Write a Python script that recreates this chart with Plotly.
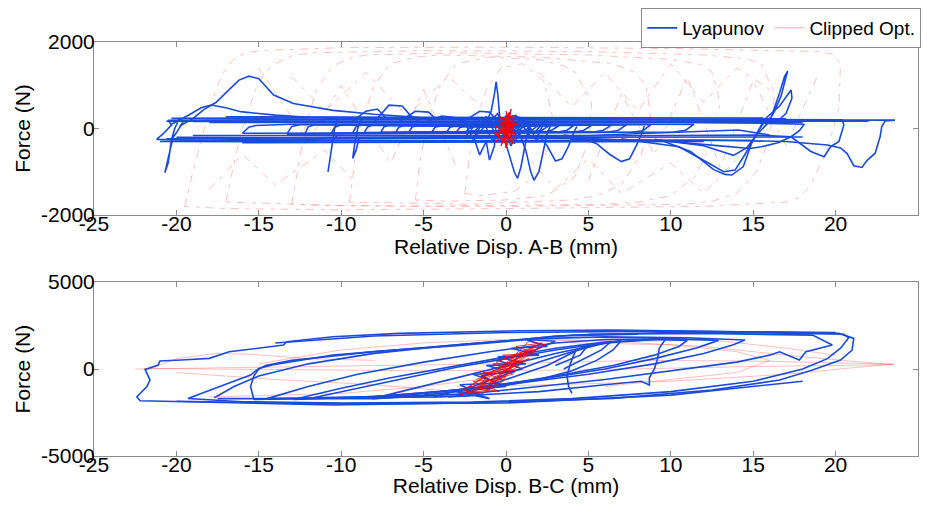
import plotly.graph_objects as go

# ---------------- DATA ----------------
x_ticks = [-25, -20, -15, -10, -5, 0, 5, 10, 15, 20, 25]
x_tick_labels = ["-25", "-20", "-15", "-10", "-5", "0", "5", "10", "15", "20", "25"]
ab_y_ticks = [-2000, 0, 2000]
ab_y_tick_labels = ["-2000", "0", "2000"]
bc_y_ticks = [-5000, 0, 5000]
bc_y_tick_labels = ["-5000", "0", "5000"]

# Top panel: Relative Disp. A-B (mm) vs Force (N)
ab_lyap_envelope = [
    [(-20.5,190),(-15,205),(-8,215),(0,205),(8,200),(15,195),(20,190),(23.6,195),(23.0,175),(22.8,40),(22.7,-190),(22.4,-570),(21.9,-740),(21.6,-900),(21.1,-860),(20.7,-580),(20.3,-450),(19.5,-380),(17,-300),(12,-265),(5,-275),(-5,-285),(-12,-295),(-18,-285),(-21.2,-250),(-20.8,-120),(-20.3,80),(-20.5,190)],
    [(-20.3,235),(-10,245),(0,235),(10,225),(18,215),(20.4,200),(20.5,80),(20.2,-300),(19.7,-420),(19.3,-650),(18.5,-530),(17.3,-190),(15,-150),(10,-165),(0,-185),(-10,-205),(-19,-225),(-20.6,-240)],
    [(-19,165),(-10,170),(0,160),(8,150),(14,140),(16,120),(18.1,100),(17.8,-50),(17.3,-190),(16.5,-330),(15.5,-420),(14.8,-460),(13,-400),(10,-300),(5,-230),(0,-220),(-10,-240),(-19.5,-270)],
    [(-20.6,170),(-10,180),(0,175),(10,170),(20,175),(22,170)],
    [(-18,140),(-5,150),(5,145),(15,140),(18,140)],
    [(-19,-160),(-5,-170),(5,-160),(14.1,-35),(16,-150)],
    [(-20,-200),(-8,-215),(4,-200),(14,-190),(18,-195)],
    [(-21,-300),(-10,-310),(0,-300),(10,-280),(15,-270)],
    [(-17,270),(-8,260),(0,250),(10,245),(17,240)],
    [(-16,-330),(-6,-320),(4,-310),(12,-300)],
]
ab_lyap_spikes = [
    [(4,-250),(9.4,-270),(11.2,-530),(12.6,-950),(13.3,-1060),(13.7,-1075),(14.4,-880),(14.9,-340),(15.5,80),(16.1,270),(16.6,820),(16.9,1200),(17.1,1330),(17.0,1210),(16.7,760),(16.3,400),(16.0,210),(14,200),(10,205)],
    [(7,-240),(10.5,-420),(12.2,-780),(13.2,-1000),(13.9,-960),(14.5,-600),(15.1,-200),(15.8,250),(16.6,520),(17.1,800),(17.3,890),(17.35,700),(17.0,350),(16.5,180),(13,175)],
    [(9,-250),(12,-400),(13.8,-620),(14.6,-450),(15.2,-150),(16,170)],
    [(3.5,-150),(4.5,-200),(5.5,-350),(6.3,-600),(7.0,-765),(7.5,-700),(7.9,-400),(8.2,-150),(8.4,60)],
    [(2.0,-150),(2.5,-400),(3.0,-750),(3.4,-700),(3.8,-400),(4.1,-100),(4.3,50)],
    [(0.8,-100),(1.2,-500),(1.5,-1000),(1.7,-1195),(2.0,-1000),(2.3,-500),(2.5,-100),(2.7,60)],
    [(-0.2,-100),(0.2,-600),(0.5,-1000),(0.7,-1150),(0.9,-900),(1.2,-300),(1.4,50)],
    [(-2.0,-150),(-1.6,-610),(-1.2,-300),(-1.0,-730),(-0.7,-400),(-0.6,100)],
    [(-1.2,150),(-0.9,400),(-0.7,800),(-0.6,1080),(-0.5,800),(-0.4,300),(-0.3,-100)],
    [(-10.2,260),(-10.4,0),(-10.6,-500),(-10.8,-1000),(-10.7,-700),(-10.5,-250),(-10.2,-150)],
    [(-8.8,200),(-9.0,0),(-9.2,-400),(-9.3,-690),(-9.1,-500),(-8.9,-200)],
    [(-19.8,250),(-20.1,0),(-20.3,-260),(-20.5,-790),(-20.7,-1020),(-20.6,-850),(-20.4,-500),(-20.2,-200),(-20.0,-100),(-19.6,150)],
    [(-19.8,60),(-19.0,230),(-18.3,450),(-17.6,600),(-16.8,900),(-16.2,1120),(-15.6,1210),(-15.0,1150),(-14.1,775),(-12.9,580),(-10.5,420),(-8,330),(-5,250),(0,210)],
    [(-20.3,100),(-19.3,300),(-18.5,480),(-17.9,545),(-17.0,480),(-16.1,390),(-14,310),(-12,260),(-8,240)],
    [(-11.2,200),(-10.5,250),(-9.6,250),(-9,200)],
    [(-9.4,150),(-8.5,400),(-7.8,450),(-7.3,250)],
    [(-8.0,150),(-7.1,540),(-6.3,520),(-5.8,300),(-5.3,180)],
    [(-6.5,150),(-5.5,400),(-4.7,380),(-4.2,200)],
    [(-4.8,160),(-3.9,290),(-3.2,260),(-2.6,170)],
    [(-2.6,160),(-1.6,400),(-1.0,380),(-0.5,150)],
    [(-0.2,150),(0.4,300),(0.9,250),(1.3,120)],
    [(-2.5,-200),(-1.5,250),(-0.8,-300),(0,300),(0.5,-350),(1.2,250),(1.8,-250),(2.4,200),(1.5,-200),(0.6,300),(-0.4,-300),(-1.2,280),(-2,-250),(-2.6,220),(-1.8,-150),(-0.5,350),(0.3,-400),(1.0,200),(2.0,-300)],
]
ab_lyap_loops = [
    [(-16.0,-110),(-15.6,30),(-15.2,70),(-13,100),(0,110),(11.1,105),(11.4,95),(10.9,-40),(10.2,-80),(0,-95),(-15.5,-120),(-16.0,-110)],
    [(-13.3,-130),(-13.0,50),(-12.5,90),(0,95),(8.5,100),(8.8,90),(8.3,-50),(7.6,-85),(0,-100),(-13,-140),(-13.3,-130)],
    [(-12.2,-120),(-12.0,40),(-11.6,85),(0,90),(7.0,95),(7.3,85),(6.8,-45),(6.2,-80),(0,-95),(-12.0,-130),(-12.2,-120)],
    [(-10.6,-110),(-10.4,30),(-10.0,80),(0,85),(6.1,90),(6.4,80),(5.9,-40),(5.4,-75),(0,-90),(-10.4,-120),(-10.6,-110)],
    [(-9.3,-100),(-9.1,40),(-8.8,80),(0,80),(4.9,85),(5.2,75),(4.7,-45),(4.3,-70),(0,-85),(-9.1,-110),(-9.3,-100)],
    [(-8.6,-95),(-8.4,35),(-8.1,75),(0,75),(3.8,80),(4.1,70),(3.7,-40),(3.3,-70),(0,-80),(-8.4,-105),(-8.6,-95)],
    [(-7.6,-90),(-7.4,40),(-7.1,70),(0,70),(2.9,75),(3.2,65),(2.8,-35),(2.5,-65),(0,-75),(-7.4,-100),(-7.6,-90)],
    [(-6.7,-90),(-6.5,30),(-6.2,70),(2.3,70),(2.6,60),(2.2,-35),(1.9,-60),(-6.5,-95),(-6.7,-90)],
    [(-5.9,-85),(-5.7,35),(-5.4,65),(1.6,65),(1.9,55),(1.6,-30),(1.3,-60),(-5.7,-90),(-5.9,-85)],
    [(-4.5,-80),(-4.3,30),(-4.0,60),(1.2,60),(1.5,50),(1.2,-30),(0.9,-55),(-4.3,-85),(-4.5,-80)],
    [(-3.6,-80),(-3.4,30),(-3.1,55),(0.9,55),(1.1,45),(0.8,-30),(0.5,-50),(-3.4,-80),(-3.6,-80)],
    [(-3.0,-75),(-2.8,25),(-2.5,50),(0.6,50),(0.8,40),(0.5,-30),(0.2,-50),(-2.8,-75),(-3.0,-75)],
    [(-2.4,-70),(-2.2,25),(-2.0,45),(0.4,45),(0.6,35),(0.3,-25),(0.1,-45),(-2.2,-70),(-2.4,-70)],
    [(-1.9,-65),(-1.7,20),(-1.5,40),(0.3,40),(0.5,30),(0.2,-25),(0.0,-40),(-1.7,-65),(-1.9,-65)],
]
ab_clip_loops = [
    [(-19.5,-1800),(-19.2,-1300),(-19.0,-1000),(-18.3,0),(-17.5,1000),(-17.0,1400),(-16.5,1600),(-15.8,1750),(-15,1800),(-10,1870),(0,1880),(10,1850),(16,1800),(19,1780),(19.8,1720),(20.3,1500),(20.2,500),(19.5,-500),(18.5,-1300),(17.8,-1600),(17,-1700),(12,-1800),(0,-1850),(-10,-1880),(-17,-1850),(-19.5,-1800)],
    [(-17,-1700),(-16.5,-800),(-16,0),(-15.2,900),(-14.6,1300),(-14,1500),(-13,1680),(-12,1750),(-5,1800),(5,1780),(12,1700),(14.5,1620),(15.5,1500),(16.3,800),(16,-200),(15.2,-1000),(14,-1500),(12.5,-1680),(11,-1750),(0,-1800),(-10,-1780),(-15,-1720),(-17,-1700)],
    [(-13,-1750),(-12.6,-900),(-12.2,0),(-11.5,900),(-10.5,1450),(-9.5,1620),(-8.5,1700),(-3,1750),(5,1700),(10,1600),(11.8,1480),(12.5,1300),(13,600),(12.5,-300),(11.5,-1100),(10,-1550),(8,-1700),(6,-1750),(-5,-1800),(-11,-1780),(-13,-1750)],
    [(-9.5,-1700),(-9.2,-800),(-8.8,100),(-8.0,1000),(-7,1500),(-5.5,1650),(-4,1700),(2,1650),(6.5,1500),(7.8,1300),(8.5,1000),(8.8,200),(8.2,-600),(7,-1300),(5.5,-1550),(4,-1650),(-2,-1750),(-7,-1720),(-9.5,-1700)],
    [(-5.5,-1650),(-5.2,-700),(-4.7,200),(-4,1000),(-3,1500),(-1,1650),(2,1600),(3.5,1450),(4.2,1300),(5.2,600),(5.0,-300),(4.2,-1100),(2.5,-1550),(0,-1650),(-3.5,-1680),(-5.5,-1650)],
    [(-2.5,-1500),(-2.2,-600),(-1.8,200),(-1.2,900),(-0.3,1400),(1,1500),(2.3,1100),(2.8,300),(2.5,-500),(1.8,-1100),(0.5,-1450),(-1.5,-1550),(-2.5,-1500)],
    [(-15,1400),(-12,-300),(-10,1000),(-7,-800),(-5,900),(-3,-900)],
    [(5,-1200),(7,800),(9,-600),(11,1200),(13,-900),(15,1100),(17,-400),(19,1300)],
    [(-18,-1400),(-16,-600),(-14,-1300),(-11,-500),(-9,-1300)],
    [(-13,1200),(-11,400),(-8.5,1300),(-6,300),(-3.5,1200),(-1.5,500)],
    [(1,-500),(3,-1400),(5,-700),(7,-1500),(10,-800),(12,-1500),(14,-700)],
    [(2,1300),(4,500),(6,1300),(8,400),(10,1500),(12,600),(14,1400),(16,900)],
]
ab_clip_core = [
    [(-0.6,-300),(0.2,350),(-0.3,-400),(0.5,300),(-0.5,200),(0.4,-350),(0,400),(0.6,-200),(-0.4,300),(0.3,-300),(-0.2,250),(0.7,100),(-0.7,-100),(0.1,-380),(0.2,380),(-0.5,-150),(0.6,150),(-0.1,-250),(0.3,450),(0.0,-450),(-0.3,150),(0.4,-100),(-0.2,-300),(0.1,300),(0.5,-250),(-0.6,50)],
]

# Bottom panel: Relative Disp. B-C (mm) vs Force (N)
bc_lyap_loops = [
    [(0.8,2200),(6.5,2240),(14,2150),(20.2,2050),(21.1,1765),(21.0,1090),(20.3,520),(18.6,-57),(16.6,-632),(12.5,-1200),(6.5,-1685),(0.4,-1880),(-4.4,-1975),(-10.5,-2070),(-16.6,-1940),(-22.2,-1820),(-22.4,-1590),(-21.8,-1015),(-21.6,-632),(-21.8,-153),(-21.9,-20),(-21.1,230),(-21.0,460),(-19.7,517),(-18.0,615),(-16.8,996),(-13.5,1380),(-13.3,1570),(-10.5,1860),(-6.5,2050),(0.8,2200)],
    [(-19.3,-1690),(-18,-1210),(-16.6,-730),(-15.5,-345),(-15,40),(-14.2,230),(-10.5,805),(-4.4,1280),(0.8,1670),(4,1950),(10,2100),(16,2080),(20.5,2000),(20.8,1800),(20.3,1200),(19.5,600),(18,0),(15,-700),(10,-1300),(4,-1700),(-2,-1900),(-10,-1950),(-16,-1880),(-19.3,-1690)],
    [(5,2000),(12,2050),(18.6,1950),(19.8,1380),(18.2,995),(17.8,517),(16.6,995),(16.0,800),(14,400),(10,-100),(6,-600),(2,-1000),(-2,-1400),(-8,-1700),(-17.5,-1700)],
    [(-17.7,-1650),(-16.5,-1000),(-15,-400),(-12,300),(-8,900),(-3,1400),(1,1700),(3,1900),(8,2000)],
    [(-15.3,-1750),(-15.5,-1000),(-15.3,-400),(-15.0,0),(-14.6,200),(-13,500),(-8,1000),(-3,1350),(2,1750),(6,1850),(11,1800),(14.5,1670),(13.8,1400),(12,900),(9,300),(5,-300),(0,-900),(-4,-1300),(-9,-1650),(-15.3,-1750)],
    [(-14.5,-1700),(-12,-1000),(-9,-300),(-5,400),(-1,1000),(3,1500),(6,1700),(10,1750),(12.9,1650),(11.5,1200),(9,600),(6,0),(2,-600),(-3,-1200),(-8,-1600),(-14.5,-1700)],
    [(-12.9,-1750),(-10,-1100),(-7,-500),(-3,200),(0,700),(3,1200),(6,1550),(9,1700),(11,1650),(10.5,1300),(9,800),(6.5,200),(3,-400),(-1,-1000),(-6,-1500),(-12.9,-1750)],
    [(-11.7,-1650),(-9,-1100),(-6,-500),(-3,100),(0,600),(3,1100),(6,1500),(9.7,1750),(9.3,1200),(9.2,600),(9.0,0),(8.7,-500),(8.7,-920),(8.2,-700),(6,-900),(2,-1300),(-4,-1600),(-11.7,-1650)],
    [(-8.1,-1700),(-6,-1200),(-3,-500),(0,200),(3,900),(5,1300),(7,1650),(6.5,1100),(5.5,500),(4,-100),(2,-600),(-1,-1100),(-5,-1500),(-8.1,-1700)],
    [(-4.4,-1600),(-2,-1000),(0,-300),(2,400),(4,1000),(6.4,1600),(5.8,1100),(4.5,500),(3.5,0)],
    [(4.2,1000),(3.9,300),(3.7,-400),(3.8,-1000),(4.0,-1400)],
    [(-3,-1500),(0,-600),(2.5,200),(4,900),(5,1400),(4.5,800),(3,200)],
    [(-20,-1850),(-10,-2000),(0,-1950),(10,-1500),(18,-700)],
    [(-14,1500),(-8,1900),(0,2100),(10,2180),(20,2100)],
    [(-3.5,-1600),(-1.5,-1500),(-2.8,-900),(-0.5,-800),(-2,-300),(0.5,-200),(-1.2,200),(1.2,300),(-0.5,700),(2,800),(0.3,1200),(2.5,1300),(1.2,1700),(3,1600),(1.5,1000),(-0.5,500),(1,0),(-1.5,-400),(0,-1000),(-2.5,-1200),(-1,-1700),(-3,-1300)],
]
bc_clip_lines = [
    [(23.5,250),(18,700),(12,1300),(6,1600),(2,1700)],
    [(23.5,250),(15,150),(5,-50),(-5,-100),(-15,-20),(-22,30)],
    [(23.5,300),(17,-300),(10,-700),(3,-900),(-3,-1000)],
    [(23.5,280),(16,450),(8,500),(0,300),(-8,200),(-16,100),(-22.5,0)],
    [(-21.9,-100),(-20,600),(-17.6,900),(-15.5,850),(-12,600),(-8,500)],
    [(-20,-200),(-14,-600),(-8,-900),(-3,-1300)],
    [(-18,-1600),(-10,-1400),(-5,-1000),(0,-400)],
    [(4,1500),(10,1400),(14,1000),(16,500),(14,-200),(10,-600),(6,-1000)],
    [(2,1700),(8,1600),(12.5,1670),(17,1200),(20,800)],
    [(-15,300),(-10,1100),(-5,1500),(0,1700)],
]
bc_clip_core = [
    [(-2.5,-1400),(-1.0,-1200),(-2.0,-700),(-0.2,-600),(-1.4,-200),(0.6,-100),(-0.8,300),(1.0,400),(-0.2,800),(1.8,900),(0.6,1300),(2.2,1500),(1.0,1000),(-0.6,400),(0.4,-300),(-1.6,-800),(-0.4,-1300),(-2.2,-1000),(-0.8,-100),(1.4,600),(0.2,0),(-1.2,-500),
     (-1.8,-1100),(0.0,-400),(-1.0,-900),(0.8,200),(-0.4,100),(1.6,1100),(0.4,700),(2.0,1200),(-0.2,-200),(-2.2,-1300),
     (-2.8,-1500),(-0.6,-900),(-1.6,-300),(0.4,100),(-0.6,-500),(1.2,800),(0.0,300),(2.4,1400),(1.4,1600),(0.2,500),(-1.0,-300),(-2.6,-1200),(-1.4,-1400),(-0.2,-700),(0.8,900),(1.8,1300),(-0.4,-100),(-1.8,-600)],
]

# ---------------- FIGURE ----------------
def flatten(segments):
    xs, ys = [], []
    for seg in segments:
        for px, py in seg:
            xs.append(px)
            ys.append(py)
        xs.append(None)
        ys.append(None)
    return xs, ys

BLUE = "#1a4bdc"
RED_LIGHT = "rgba(255,90,90,0.4)"
RED_CORE = "rgb(255,0,0)"
FONT = "Liberation Sans, Arial, sans-serif"

fig = go.Figure()

x, y = flatten(ab_clip_loops)
fig.add_trace(go.Scatter(x=x, y=y, mode="lines", showlegend=False,
                         line=dict(color="rgba(255,90,90,0.38)", width=1, dash="8px,6px,4px,7px"),
                         xaxis="x", yaxis="y"))
for segs in (ab_lyap_envelope, ab_lyap_loops, ab_lyap_spikes):
    x, y = flatten(segs)
    fig.add_trace(go.Scatter(x=x, y=y, mode="lines", showlegend=False,
                             line=dict(color=BLUE, width=1.6), xaxis="x", yaxis="y"))
x, y = flatten(ab_clip_core)
fig.add_trace(go.Scatter(x=x, y=y, mode="lines", showlegend=False,
                         line=dict(color=RED_CORE, width=1), xaxis="x", yaxis="y"))

x, y = flatten(bc_clip_lines)
fig.add_trace(go.Scatter(x=x, y=y, mode="lines", showlegend=False,
                         line=dict(color=RED_LIGHT, width=1), xaxis="x2", yaxis="y2"))
x, y = flatten(bc_lyap_loops)
fig.add_trace(go.Scatter(x=x, y=y, mode="lines", showlegend=False,
                         line=dict(color=BLUE, width=1.6), xaxis="x2", yaxis="y2"))
x, y = flatten(bc_clip_core)
fig.add_trace(go.Scatter(x=x, y=y, mode="lines", showlegend=False,
                         line=dict(color="rgba(255,0,0,0.8)", width=1), xaxis="x2", yaxis="y2"))

# legend entries
fig.add_trace(go.Scatter(x=[None], y=[None], mode="lines", name="Lyapunov",
                         line=dict(color=BLUE, width=1.6), xaxis="x", yaxis="y"))
fig.add_trace(go.Scatter(x=[None], y=[None], mode="lines", name="Clipped Opt.",
                         line=dict(color="rgb(255,170,170)", width=1), xaxis="x", yaxis="y"))

axis_common = dict(range=[-25, 25], tickvals=x_ticks, ticktext=x_tick_labels,
                   showgrid=False, zeroline=False, showline=True,
                   linecolor="#8c8c8c", linewidth=1, mirror="ticks", ticks="inside", ticklen=5,
                   tickcolor="#8c8c8c", ticklabelstandoff=-10,
                   tickfont=dict(size=21, color="black", family=FONT))
yaxis_common = dict(showgrid=False, zeroline=False, showline=True, linecolor="#8c8c8c",
                    linewidth=1, mirror="ticks", ticks="inside", ticklen=5, tickcolor="#8c8c8c",
                    ticklabelstandoff=-6,
                    tickfont=dict(size=21, color="black", family=FONT))

# The page body has an 8 px margin, so the figure is sized to fit inside 931x505.
fig.update_layout(
    width=915, height=489,
    margin=dict(l=86, r=5, t=34, b=41, autoexpand=False),
    plot_bgcolor="white", paper_bgcolor="white",
    font=dict(family=FONT, size=21, color="black"),
    xaxis=dict(domain=[0, 1], anchor="y",
               title=dict(text="Relative Disp. A-B (mm)", font=dict(size=21), standoff=0),
               **axis_common),
    yaxis=dict(domain=[0.582, 1], anchor="x", range=[-2000, 2000],
               tickvals=ab_y_ticks, ticktext=ab_y_tick_labels,
               title=dict(text="Force (N)", font=dict(size=21), standoff=4), **yaxis_common),
    xaxis2=dict(domain=[0, 1], anchor="y2",
                title=dict(text="Relative Disp. B-C (mm)", font=dict(size=21), standoff=0),
                **axis_common),
    yaxis2=dict(domain=[0, 0.42], anchor="x2", range=[-5000, 5000],
                tickvals=bc_y_ticks, ticktext=bc_y_tick_labels,
                title=dict(text="Force (N)", font=dict(size=21), standoff=4), **yaxis_common),
    legend=dict(orientation="h", xref="container", yref="container",
                x=0.692, xanchor="left", y=1.0, yanchor="top",
                bgcolor="white", bordercolor="#8c8c8c", borderwidth=1,
                font=dict(size=19, family=FONT), itemwidth=30, tracegroupgap=0),
    showlegend=True,
)

fig.write_html("out.html")
